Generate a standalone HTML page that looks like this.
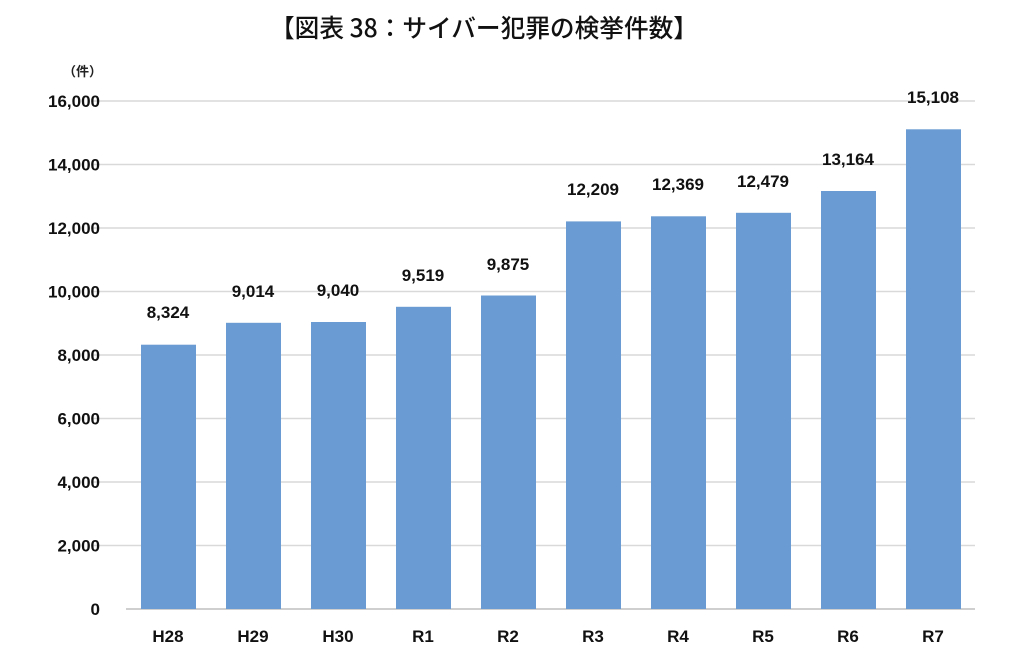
<!DOCTYPE html>
<html><head><meta charset="utf-8"><style>body{margin:0;background:#fff}svg{display:block}</style></head><body>
<svg width="1024" height="653" xmlns="http://www.w3.org/2000/svg" font-family="'Liberation Sans','Noto Sans CJK JP',sans-serif">
<text x="270" y="37" font-size="25" font-weight="500" font-family="'Noto Sans CJK JP',sans-serif" fill="#111" textLength="428" lengthAdjust="spacingAndGlyphs">【図表 38：サイバー犯罪の検挙件数】</text>
<text x="63" y="76" font-size="13" font-weight="bold" font-family="'Noto Sans CJK JP',sans-serif" fill="#222">（件）</text>
<g stroke="#d9d9d9" stroke-width="1.5">
<line x1="92" x2="975" y1="101" y2="101"/><line x1="92" x2="975" y1="164.5" y2="164.5"/><line x1="92" x2="975" y1="228" y2="228"/><line x1="92" x2="975" y1="291.5" y2="291.5"/><line x1="92" x2="975" y1="355" y2="355"/><line x1="92" x2="975" y1="418.5" y2="418.5"/><line x1="92" x2="975" y1="482" y2="482"/><line x1="92" x2="975" y1="545.5" y2="545.5"/>
</g>
<line x1="126" x2="975" y1="609" y2="609" stroke="#bfbfbf" stroke-width="1.5"/>
<g font-size="17" font-weight="bold" fill="#111" text-anchor="end">
<text x="100" y="107">16,000</text><text x="100" y="170.5">14,000</text><text x="100" y="234">12,000</text><text x="100" y="297.5">10,000</text><text x="100" y="361">8,000</text><text x="100" y="424.5">6,000</text><text x="100" y="488">4,000</text><text x="100" y="551.5">2,000</text><text x="100" y="615">0</text>
</g>
<g fill="#6a9bd2">
<rect x="141" y="344.7" width="55" height="264.3"/>
<rect x="226" y="322.8" width="55" height="286.2"/>
<rect x="311" y="322" width="55" height="287"/>
<rect x="396" y="306.8" width="55" height="302.2"/>
<rect x="481" y="295.5" width="55" height="313.5"/>
<rect x="566" y="221.4" width="55" height="387.6"/>
<rect x="651" y="216.3" width="55" height="392.7"/>
<rect x="736" y="212.8" width="55" height="396.2"/>
<rect x="821" y="191" width="55" height="418"/>
<rect x="906" y="129.3" width="55" height="479.7"/>
</g>
<g font-size="17" font-weight="bold" fill="#111" text-anchor="middle">
<text x="168" y="318">8,324</text><text x="253" y="297">9,014</text><text x="338" y="296">9,040</text><text x="423" y="281">9,519</text><text x="508" y="270">9,875</text><text x="593" y="195">12,209</text><text x="678" y="190">12,369</text><text x="763" y="187">12,479</text><text x="848" y="165">13,164</text><text x="933" y="103">15,108</text>
<text x="168" y="642">H28</text><text x="253" y="642">H29</text><text x="338" y="642">H30</text><text x="423" y="642">R1</text><text x="508" y="642">R2</text><text x="593" y="642">R3</text><text x="678" y="642">R4</text><text x="763" y="642">R5</text><text x="848" y="642">R6</text><text x="933" y="642">R7</text>
</g>
</svg>
</body></html>
